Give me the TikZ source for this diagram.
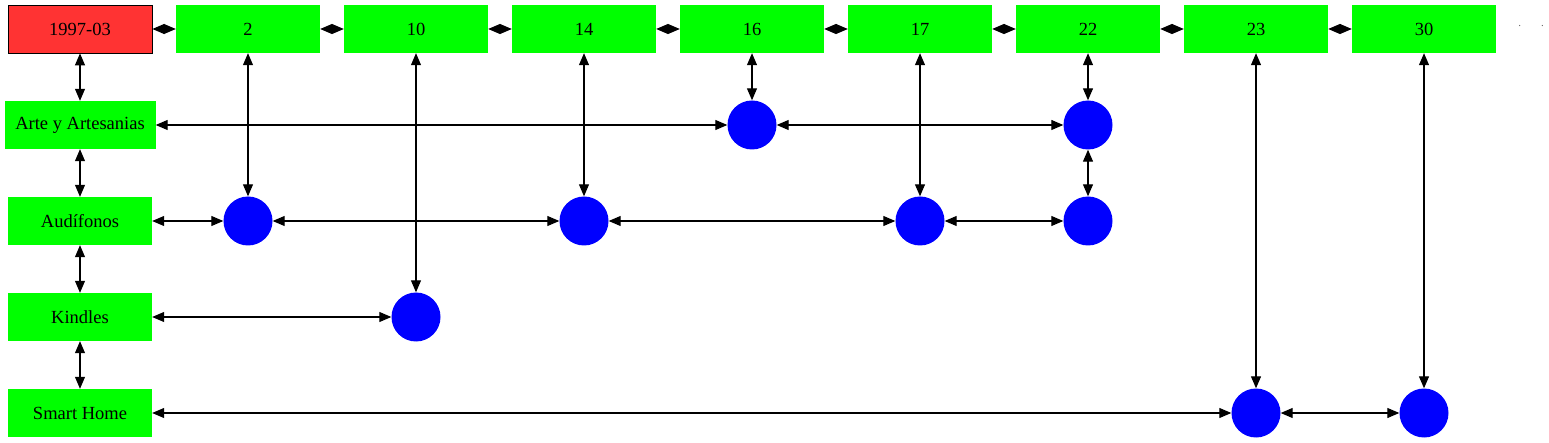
\documentclass[tikz,border=0pt]{standalone}
\usepackage{fontspec}
\setmainfont{Liberation Serif}
\usetikzlibrary{arrows.meta}
\definecolor{datered}{HTML}{FF3333}
\definecolor{catgreen}{HTML}{00FF00}
\definecolor{dotblue}{HTML}{0000FF}
\tikzset{
    every node/.style={inner sep=0pt, font=\fontsize{18.5}{20}\selectfont},
    datebox/.style={rectangle, draw=black, line width=0.8pt, fill=datered, minimum width=144pt, minimum height=48pt},
    catbox/.style={rectangle, fill=catgreen, minimum width=144pt, minimum height=48pt},
    hit/.style={circle, fill=dotblue, minimum size=49pt},
    link/.style={line width=1.1pt, {Triangle[length=12pt,width=10pt]}-{Triangle[length=12pt,width=10pt]}}
}

\begin{document}
\begin{tikzpicture}[x=1pt, y=-1pt]
    \useasboundingbox (0,0) rectangle (1549,443);

    \node (d0) [datebox] at (80, 29) {1997-03};
    \node (d2) [catbox] at (248, 29) {2};
    \node (d10) [catbox] at (416, 29) {10};
    \node (d14) [catbox] at (584, 29) {14};
    \node (d16) [catbox] at (752, 29) {16};
    \node (d17) [catbox] at (920, 29) {17};
    \node (d22) [catbox] at (1088, 29) {22};
    \node (d23) [catbox] at (1256, 29) {23};
    \node (d30) [catbox] at (1424, 29) {30};
    \node (more) [text=gray!80!black, font=\fontsize{11}{11}\selectfont] at (1531, 26) {.\hspace{20pt}.};

    \node (arte) [catbox, minimum width=151pt] at (80, 125) {Arte y Artesanias};
    \node (audi) [catbox] at (80, 221) {Audífonos};
    \node (kind) [catbox] at (80, 317) {Kindles};
    \node (smart) [catbox] at (80, 413) {Smart Home};

    \node (a16) [hit] at (752, 125) {};
    \node (a22) [hit] at (1088, 125) {};
    \node (u2) [hit] at (248, 221) {};
    \node (u14) [hit] at (584, 221) {};
    \node (u17) [hit] at (920, 221) {};
    \node (u22) [hit] at (1088, 221) {};
    \node (k10) [hit] at (416, 317) {};
    \node (s23) [hit] at (1256, 413) {};
    \node (s30) [hit] at (1424, 413) {};

    % time line
    \draw[link] (d0) edge (d2);
    \draw[link] (d2) edge (d10);
    \draw[link] (d10) edge (d14);
    \draw[link] (d14) edge (d16);
    \draw[link] (d16) edge (d17);
    \draw[link] (d17) edge (d22);
    \draw[link] (d22) edge (d23);
    \draw[link] (d23) edge (d30);

    % categories
    \draw[link] (d0) edge (arte);
    \draw[link] (arte) edge (audi);
    \draw[link] (audi) edge (kind);
    \draw[link] (kind) edge (smart);

    % columns
    \draw[link] (d2) edge (u2);
    \draw[link] (d10) edge (k10);
    \draw[link] (d14) edge (u14);
    \draw[link] (d16) edge (a16);
    \draw[link] (d17) edge (u17);
    \draw[link] (d22) edge (a22);
    \draw[link] (a22) edge (u22);
    \draw[link] (d23) edge (s23);
    \draw[link] (d30) edge (s30);

    % rows
    \draw[link] (arte) edge (a16);
    \draw[link] (a16) edge (a22);
    \draw[link] (audi) edge (u2);
    \draw[link] (u2) edge (u14);
    \draw[link] (u14) edge (u17);
    \draw[link] (u17) edge (u22);
    \draw[link] (kind) edge (k10);
    \draw[link] (smart) edge (s23);
    \draw[link] (s23) edge (s30);
\end{tikzpicture}
\end{document}
